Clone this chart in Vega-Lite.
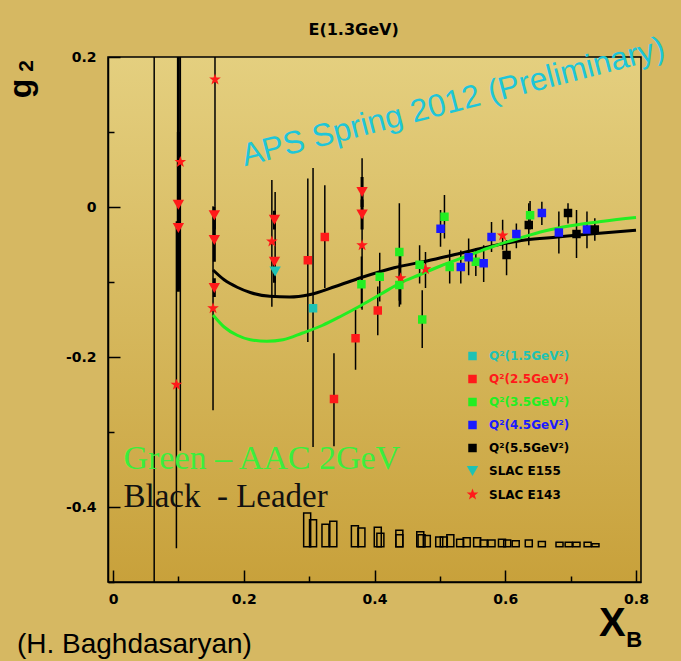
{
  "$schema": "https://vega.github.io/schema/vega-lite/v6.json",
  "width": 533,
  "height": 525,
  "autosize": {"type": "none"},
  "padding": {"left": 108, "top": 57, "right": 40, "bottom": 79},
  "background": "#d6b862",
  "config": {
    "view": {
      "stroke": "black",
      "strokeWidth": 1.5,
      "fill": {
        "gradient": "linear", "x1": 0, "y1": 0, "x2": 0, "y2": 1,
        "stops": [{"offset": 0, "color": "#e4cf7f"}, {"offset": 1, "color": "#c8a13b"}]
      }
    },
    "axis": {
      "grid": false,
      "domainColor": "black",
      "domainWidth": 1.5,
      "tickColor": "black",
      "tickWidth": 1.5,
      "labelFont": "DejaVu Sans",
      "labelFontWeight": "bold",
      "labelFontSize": 14,
      "labelColor": "black"
    }
  },
  "datasets": {
    "points": [
      {"series": "SLAC E143", "x": 0.063, "y": 0.35, "lo": -0.9, "hi": 1.6},
      {"series": "SLAC E143", "x": 0.103, "y": 0.060, "lo": -0.325, "hi": 0.445},
      {"series": "SLAC E143", "x": 0.097, "y": -0.237, "lo": -0.455, "hi": -0.019},
      {"series": "SLAC E143", "x": 0.156, "y": 0.170, "lo": 0.0, "hi": 0.34},
      {"series": "SLAC E143", "x": 0.153, "y": -0.135, "lo": -0.271, "hi": 0.001},
      {"series": "SLAC E143", "x": 0.243, "y": -0.046, "lo": -0.133, "hi": 0.036},
      {"series": "SLAC E143", "x": 0.381, "y": -0.051, "lo": -0.137, "hi": 0.065},
      {"series": "SLAC E143", "x": 0.440, "y": -0.095, "lo": -0.130, "hi": -0.060},
      {"series": "SLAC E143", "x": 0.478, "y": -0.083, "lo": -0.108, "hi": -0.060},
      {"series": "SLAC E143", "x": 0.596, "y": -0.038, "lo": -0.057, "hi": -0.017},
      {"series": "SLAC E155", "x": 0.248, "y": -0.086, "lo": -0.120, "hi": 0.020},
      {"series": "Q²(1.5GeV²)", "x": 0.306, "y": -0.135, "lo": -0.320, "hi": 0.052},
      {"series": "Q²(2.5GeV²)", "x": 0.298, "y": -0.071, "lo": -0.180, "hi": 0.038},
      {"series": "Q²(2.5GeV²)", "x": 0.324, "y": -0.040, "lo": -0.108, "hi": 0.029},
      {"series": "Q²(2.5GeV²)", "x": 0.338, "y": -0.256, "lo": -0.319, "hi": -0.195},
      {"series": "Q²(2.5GeV²)", "x": 0.371, "y": -0.175, "lo": -0.217, "hi": -0.137},
      {"series": "Q²(2.5GeV²)", "x": 0.405, "y": -0.138, "lo": -0.171, "hi": -0.106},
      {"series": "Q²(3.5GeV²)", "x": 0.380, "y": -0.103, "lo": -0.135, "hi": -0.066},
      {"series": "Q²(3.5GeV²)", "x": 0.408, "y": -0.093, "lo": -0.126, "hi": -0.061},
      {"series": "Q²(3.5GeV²)", "x": 0.438, "y": -0.060, "lo": -0.125, "hi": 0.005},
      {"series": "Q²(3.5GeV²)", "x": 0.438, "y": -0.104, "lo": -0.133, "hi": -0.075},
      {"series": "Q²(3.5GeV²)", "x": 0.469, "y": -0.077, "lo": -0.102, "hi": -0.051},
      {"series": "Q²(3.5GeV²)", "x": 0.473, "y": -0.150, "lo": -0.188, "hi": -0.111},
      {"series": "Q²(3.5GeV²)", "x": 0.507, "y": -0.013, "lo": -0.042, "hi": 0.016},
      {"series": "Q²(3.5GeV²)", "x": 0.515, "y": -0.080, "lo": -0.102, "hi": -0.057},
      {"series": "Q²(3.5GeV²)", "x": 0.555, "y": -0.073, "lo": -0.092, "hi": -0.055},
      {"series": "Q²(3.5GeV²)", "x": 0.638, "y": -0.011, "lo": -0.030, "hi": 0.008},
      {"series": "Q²(4.5GeV²)", "x": 0.501, "y": -0.029, "lo": -0.053, "hi": -0.004},
      {"series": "Q²(4.5GeV²)", "x": 0.532, "y": -0.080, "lo": -0.102, "hi": -0.058},
      {"series": "Q²(4.5GeV²)", "x": 0.544, "y": -0.067, "lo": -0.091, "hi": -0.042},
      {"series": "Q²(4.5GeV²)", "x": 0.567, "y": -0.075, "lo": -0.100, "hi": -0.051},
      {"series": "Q²(4.5GeV²)", "x": 0.579, "y": -0.040, "lo": -0.060, "hi": -0.020},
      {"series": "Q²(4.5GeV²)", "x": 0.617, "y": -0.036, "lo": -0.055, "hi": -0.022},
      {"series": "Q²(4.5GeV²)", "x": 0.656, "y": -0.008, "lo": -0.024, "hi": 0.007},
      {"series": "Q²(4.5GeV²)", "x": 0.682, "y": -0.034, "lo": -0.062, "hi": -0.006},
      {"series": "Q²(4.5GeV²)", "x": 0.725, "y": -0.030, "lo": -0.055, "hi": -0.006},
      {"series": "Q²(5.5GeV²)", "x": 0.602, "y": -0.064, "lo": -0.091, "hi": -0.044},
      {"series": "Q²(5.5GeV²)", "x": 0.636, "y": -0.024, "lo": -0.051, "hi": 0.005},
      {"series": "Q²(5.5GeV²)", "x": 0.696, "y": -0.008, "lo": -0.022, "hi": 0.005},
      {"series": "Q²(5.5GeV²)", "x": 0.709, "y": -0.036, "lo": -0.068, "hi": -0.004},
      {"series": "Q²(5.5GeV²)", "x": 0.737, "y": -0.030, "lo": -0.045, "hi": -0.015}
    ],
    "e155x": [
      {"x": 0.100, "y": 0.003, "lo": -0.113, "hi": 0.25},
      {"x": 0.100, "y": -0.028, "lo": -0.110, "hi": 0.10},
      {"x": 0.155, "y": -0.011, "lo": -0.030, "hi": 0.0},
      {"x": 0.155, "y": -0.044, "lo": -0.073, "hi": -0.015},
      {"x": 0.155, "y": -0.108, "lo": -0.120, "hi": -0.095},
      {"x": 0.247, "y": -0.017, "lo": -0.030, "hi": -0.005},
      {"x": 0.247, "y": -0.073, "lo": -0.101, "hi": -0.073},
      {"x": 0.381, "y": 0.020, "lo": 0.0, "hi": 0.040},
      {"x": 0.381, "y": -0.010, "lo": -0.030, "hi": 0.010}
    ],
    "leader": [
      {"x": 0.153, "y": -0.084}, {"x": 0.17, "y": -0.097}, {"x": 0.19, "y": -0.107},
      {"x": 0.21, "y": -0.114}, {"x": 0.24, "y": -0.119}, {"x": 0.27, "y": -0.120},
      {"x": 0.30, "y": -0.117}, {"x": 0.34, "y": -0.106}, {"x": 0.38, "y": -0.094},
      {"x": 0.43, "y": -0.081}, {"x": 0.48, "y": -0.072}, {"x": 0.53, "y": -0.062},
      {"x": 0.58, "y": -0.052}, {"x": 0.63, "y": -0.044}, {"x": 0.68, "y": -0.040},
      {"x": 0.73, "y": -0.036}, {"x": 0.80, "y": -0.031}
    ],
    "aac": [
      {"x": 0.153, "y": -0.144}, {"x": 0.17, "y": -0.160}, {"x": 0.19, "y": -0.171},
      {"x": 0.21, "y": -0.177}, {"x": 0.235, "y": -0.179}, {"x": 0.26, "y": -0.177},
      {"x": 0.29, "y": -0.168}, {"x": 0.32, "y": -0.158}, {"x": 0.35, "y": -0.145},
      {"x": 0.38, "y": -0.131}, {"x": 0.41, "y": -0.116}, {"x": 0.44, "y": -0.101},
      {"x": 0.47, "y": -0.090}, {"x": 0.50, "y": -0.079}, {"x": 0.54, "y": -0.066},
      {"x": 0.58, "y": -0.053}, {"x": 0.62, "y": -0.042}, {"x": 0.66, "y": -0.032},
      {"x": 0.70, "y": -0.025}, {"x": 0.75, "y": -0.019}, {"x": 0.80, "y": -0.014}
    ],
    "systematic": [
      {"x": 0.297, "y": -0.408}, {"x": 0.306, "y": -0.417}, {"x": 0.325, "y": -0.423},
      {"x": 0.337, "y": -0.419}, {"x": 0.370, "y": -0.425}, {"x": 0.380, "y": -0.428},
      {"x": 0.405, "y": -0.427}, {"x": 0.409, "y": -0.435}, {"x": 0.438, "y": -0.431},
      {"x": 0.438, "y": -0.437}, {"x": 0.470, "y": -0.433}, {"x": 0.472, "y": -0.437},
      {"x": 0.480, "y": -0.438}, {"x": 0.499, "y": -0.440}, {"x": 0.506, "y": -0.440},
      {"x": 0.516, "y": -0.437}, {"x": 0.531, "y": -0.443}, {"x": 0.541, "y": -0.441},
      {"x": 0.557, "y": -0.441}, {"x": 0.567, "y": -0.444}, {"x": 0.579, "y": -0.444},
      {"x": 0.595, "y": -0.443}, {"x": 0.603, "y": -0.444}, {"x": 0.616, "y": -0.445},
      {"x": 0.636, "y": -0.444}, {"x": 0.656, "y": -0.446}, {"x": 0.683, "y": -0.447},
      {"x": 0.697, "y": -0.447}, {"x": 0.709, "y": -0.447}, {"x": 0.726, "y": -0.447},
      {"x": 0.738, "y": -0.449}
    ]
  },
  "layer": [
    {
      "data": {"name": "systematic"},
      "mark": {"type": "bar", "orient": "vertical", "size": 7, "fill": null, "fillOpacity": 0, "stroke": "black", "strokeWidth": 1.5},
      "encoding": {
        "x": {
          "field": "x", "type": "quantitative",
          "scale": {"domain": [0, 0.8], "nice": false, "zero": false},
          "axis": {
            "title": null,
            "values": [0, 0.1, 0.2, 0.3, 0.4, 0.5, 0.6, 0.7, 0.8],
            "tickSize": {"condition": {"test": "round(datum.value*10) % 2 == 0", "value": -12}, "value": -6},
            "labelPadding": 22,
            "labelExpr": "round(datum.value*10) % 2 == 0 ? replace(format(datum.value, '~g'), '\u2212', '-') : ''"
          }
        },
        "y": {
          "field": "y", "type": "quantitative",
          "scale": {"domain": [-0.5, 0.2], "nice": false, "zero": false},
          "axis": {
            "title": null,
            "values": [-0.5, -0.4, -0.3, -0.2, -0.1, 0, 0.1, 0.2],
            "tickSize": {"condition": {"test": "round(datum.value*10) % 2 == 0", "value": -12}, "value": -6},
            "labelPadding": 24,
            "labelExpr": "round(datum.value*10) % 2 == 0 ? replace(format(datum.value, '~g'), '\u2212', '-') : ''"
          }
        },
        "y2": {"datum": -0.453}
      }
    },
    {
      "data": {"name": "points"},
      "mark": {"type": "rule", "color": "black", "strokeWidth": 1.5, "clip": true},
      "encoding": {
        "x": {"field": "x", "type": "quantitative"},
        "y": {"field": "lo", "type": "quantitative"},
        "y2": {"field": "hi"}
      }
    },
    {
      "data": {"name": "e155x"},
      "mark": {"type": "rule", "color": "black", "strokeWidth": 3, "clip": true},
      "encoding": {
        "x": {"field": "x", "type": "quantitative"},
        "y": {"field": "lo", "type": "quantitative"},
        "y2": {"field": "hi"}
      }
    },
    {
      "data": {"name": "leader"},
      "mark": {"type": "line", "color": "black", "strokeWidth": 3, "interpolate": "monotone"},
      "encoding": {
        "x": {"field": "x", "type": "quantitative"},
        "y": {"field": "y", "type": "quantitative"}
      }
    },
    {
      "data": {"name": "aac"},
      "mark": {"type": "line", "color": "#22ee22", "strokeWidth": 3, "interpolate": "monotone"},
      "encoding": {
        "x": {"field": "x", "type": "quantitative"},
        "y": {"field": "y", "type": "quantitative"}
      }
    },
    {
      "data": {"name": "e155x"},
      "mark": {"type": "point", "shape": "triangle-down", "filled": true, "opacity": 1, "color": "#ff1a1a", "size": 130, "clip": true},
      "encoding": {
        "x": {"field": "x", "type": "quantitative"},
        "y": {"field": "y", "type": "quantitative"}
      }
    },
    {
      "data": {"name": "points"},
      "mark": {"type": "point", "filled": true, "opacity": 1, "clip": true},
      "encoding": {
        "x": {"field": "x", "type": "quantitative"},
        "y": {"field": "y", "type": "quantitative"},
        "color": {
          "field": "series", "type": "nominal",
          "scale": {
            "domain": ["Q²(1.5GeV²)", "Q²(2.5GeV²)", "Q²(3.5GeV²)", "Q²(4.5GeV²)", "Q²(5.5GeV²)", "SLAC E155", "SLAC E143"],
            "range": ["#1ec2b4", "#ff1a1a", "#22ee22", "#1a1aff", "#000000", "#1ec2b4", "#ff1a1a"]
          },
          "legend": {
            "title": null,
            "orient": "none",
            "legendX": 358,
            "legendY": 293,
            "labelFont": "DejaVu Sans",
            "labelFontWeight": "bold",
            "labelFontSize": 12,
            "labelOffset": 10,
            "labelColor": {"expr": "datum.value == 'Q²(1.5GeV²)' ? '#1ec2b4' : datum.value == 'Q²(2.5GeV²)' ? '#ff1a1a' : datum.value == 'Q²(3.5GeV²)' ? '#22ee22' : datum.value == 'Q²(4.5GeV²)' ? '#1a1aff' : 'black'"},
            "symbolSize": 34,
            "symbolStrokeWidth": 0,
            "rowPadding": 11
          }
        },
        "shape": {
          "field": "series", "type": "nominal",
          "scale": {
            "domain": ["Q²(1.5GeV²)", "Q²(2.5GeV²)", "Q²(3.5GeV²)", "Q²(4.5GeV²)", "Q²(5.5GeV²)", "SLAC E155", "SLAC E143"],
            "range": ["square", "square", "square", "square", "square", "triangle-down", "M0,-1L0.235,-0.324L0.951,-0.309L0.38,0.124L0.588,0.809L0,0.4L-0.588,0.809L-0.38,0.124L-0.951,-0.309L-0.235,-0.324Z"]
          }
        },
        "size": {
          "field": "series", "type": "nominal", "legend": null,
          "scale": {
            "type": "ordinal",
            "domain": ["Q²(1.5GeV²)", "Q²(2.5GeV²)", "Q²(3.5GeV²)", "Q²(4.5GeV²)", "Q²(5.5GeV²)", "SLAC E155", "SLAC E143"],
            "range": [72, 72, 72, 72, 72, 130, 150]
          }
        }
      }
    },
    {
      "data": {"values": [{}]},
      "mark": {"type": "text", "text": "E(1.3GeV)", "font": "DejaVu Sans", "fontWeight": "bold", "fontSize": 16, "align": "center", "baseline": "middle", "color": "black"},
      "encoding": {"x": {"datum": 0.368}, "y": {"datum": 0.236}}
    },
    {
      "data": {"values": [{}]},
      "mark": {"type": "text", "text": "g", "font": "Liberation Sans", "fontWeight": "bold", "fontSize": 32, "angle": 270, "align": "center", "baseline": "middle", "color": "black"},
      "encoding": {"x": {"datum": -0.141}, "y": {"datum": 0.158}}
    },
    {
      "data": {"values": [{}]},
      "mark": {"type": "text", "text": "2", "font": "Liberation Sans", "fontWeight": "bold", "fontSize": 21, "angle": 270, "align": "center", "baseline": "middle", "color": "black"},
      "encoding": {"x": {"datum": -0.132}, "y": {"datum": 0.188}}
    },
    {
      "data": {"values": [{}]},
      "mark": {"type": "text", "text": "APS Spring 2012 (Preliminary)", "font": "Liberation Sans", "fontSize": 32, "angle": -14.5, "align": "center", "baseline": "alphabetic", "color": "#1ec6d8"},
      "encoding": {"x": {"datum": 0.524}, "y": {"datum": 0.127}}
    },
    {
      "data": {"values": [{}]},
      "mark": {"type": "text", "text": "Green – AAC 2GeV", "font": "Liberation Serif", "fontSize": 34, "align": "left", "baseline": "alphabetic", "color": "#3cee3c"},
      "encoding": {"x": {"datum": 0.016}, "y": {"datum": -0.349}}
    },
    {
      "data": {"values": [{}]},
      "mark": {"type": "text", "text": "Black\u00a0 - Leader", "font": "Liberation Serif", "fontSize": 33, "align": "left", "baseline": "alphabetic", "color": "#111111"},
      "encoding": {"x": {"datum": 0.016}, "y": {"datum": -0.4}}
    },
    {
      "data": {"values": [{}]},
      "mark": {"type": "text", "text": "X", "font": "Liberation Sans", "fontWeight": "bold", "fontSize": 40, "align": "center", "baseline": "alphabetic", "color": "black"},
      "encoding": {"x": {"datum": 0.764}, "y": {"datum": -0.572}}
    },
    {
      "data": {"values": [{}]},
      "mark": {"type": "text", "text": "B", "font": "Liberation Sans", "fontWeight": "bold", "fontSize": 22, "align": "left", "baseline": "alphabetic", "color": "black"},
      "encoding": {"x": {"datum": 0.785}, "y": {"datum": -0.587}}
    },
    {
      "data": {"values": [{}]},
      "mark": {"type": "text", "text": "(H. Baghdasaryan)", "font": "Liberation Sans", "fontSize": 28, "align": "left", "baseline": "alphabetic", "color": "black"},
      "encoding": {"x": {"datum": -0.147}, "y": {"datum": -0.595}}
    }
  ]
}
